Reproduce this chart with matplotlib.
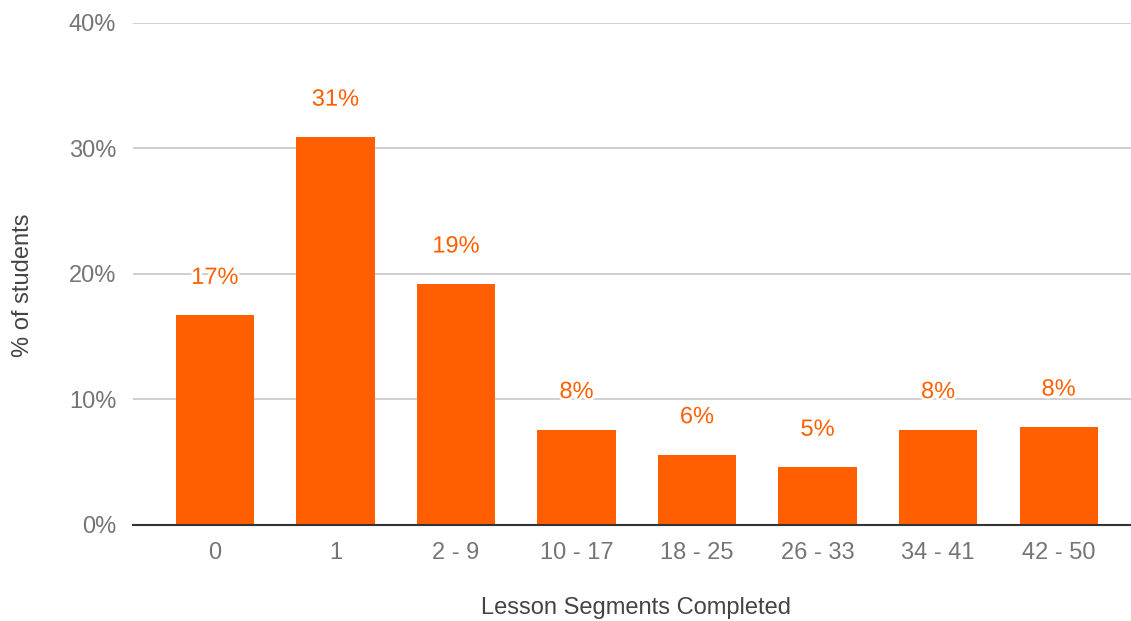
import matplotlib
matplotlib.use("Agg")
import matplotlib.pyplot as plt
import matplotlib.patheffects as pe
import numpy as np

segments = ["0", "1", "2 - 9", "10 - 17", "18 - 25", "26 - 33", "34 - 41", "42 - 50"]
pct_students = [16.7, 30.9, 19.2, 7.6, 5.6, 4.6, 7.6, 7.8]
yticks = [0, 10, 20, 30, 40]

orange = "#ff5f00"
grey = "#757575"

plt.rcParams["font.family"] = ["Liberation Sans", "DejaVu Sans"]

fig = plt.figure(figsize=(11.31, 6.21), dpi=100)
ax = fig.add_axes([0.1176, 0.1546, 0.8824, 0.8084])

x = np.arange(len(segments))
ax.bar(x, pct_students, width=0.65, color=orange, zorder=3)

# value labels with a white halo so the gridlines don't run through them
for xi, v in zip(x, pct_students):
    ax.annotate(f"{v:.0f}%", (xi, v), xytext=(0, 27), textcoords="offset points",
                ha="center", va="center", color=orange, fontsize=17, zorder=4,
                path_effects=[pe.withStroke(linewidth=4, foreground="white")])

ax.set_xlim(-0.68, 7.6)
ax.set_ylim(0, 40)
ax.set_yticks(yticks)
ax.set_yticklabels([f"{t}%" for t in yticks])
ax.set_xticks(x)
ax.set_xticklabels(segments)
ax.tick_params(axis="both", length=0, labelsize=17, labelcolor=grey)
ax.tick_params(axis="y", pad=12)
ax.tick_params(axis="x", pad=12)

ax.grid(axis="y", color="#cccccc", linewidth=1.3, zorder=0)
for s in ["top", "right", "left"]:
    ax.spines[s].set_visible(False)
ax.spines["bottom"].set_color("#333333")
ax.spines["bottom"].set_linewidth(1.5)
ax.spines["bottom"].set_zorder(5)

fig.text(0.5627, 0.021, "Lesson Segments Completed", ha="center", va="center",
         fontsize=17, color="#444444")
fig.text(0.020, 0.541, "% of students", ha="center", va="center", rotation=90,
         fontsize=17, color="#444444")

fig.savefig("out.png", dpi=100)
